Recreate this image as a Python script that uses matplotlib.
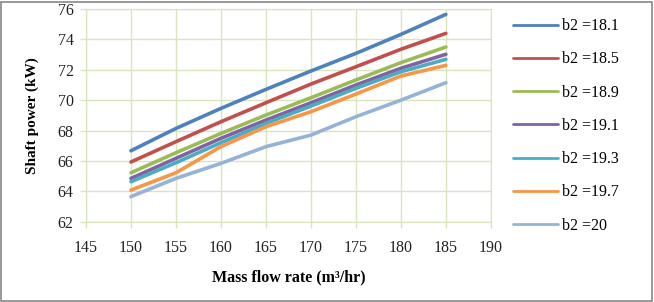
import matplotlib
matplotlib.use("Agg")
import matplotlib.pyplot as plt
from matplotlib.patches import Rectangle

plt.rcParams['font.family'] = ['Liberation Serif', 'DejaVu Serif']

flow = [150, 155, 160, 165, 170, 175, 180, 185]

b2_181 = [66.67, 68.14, 69.46, 70.71, 71.92, 73.08, 74.33, 75.65]
b2_185 = [65.93, 67.27, 68.58, 69.83, 71.06, 72.20, 73.35, 74.40]
b2_189 = [65.22, 66.54, 67.81, 69.02, 70.16, 71.33, 72.47, 73.50]
b2_191 = [64.85, 66.17, 67.49, 68.69, 69.83, 71.00, 72.10, 73.02]
b2_193 = [64.63, 65.88, 67.20, 68.47, 69.61, 70.78, 71.87, 72.69]
b2_197 = [64.08, 65.22, 66.94, 68.25, 69.24, 70.40, 71.59, 72.29]
b2_200 = [63.65, 64.85, 65.84, 66.94, 67.70, 68.91, 70.00, 71.15]

series = [b2_181, b2_185, b2_189, b2_191, b2_193, b2_197, b2_200]
labels = ["b2 =18.1", "b2 =18.5", "b2 =18.9", "b2 =19.1", "b2 =19.3", "b2 =19.7", "b2 =20"]
colors = ["#4F81BD", "#C0504D", "#9BBB59", "#8064A2", "#4BACC6", "#F79646", "#95B3D7"]

fig = plt.figure(figsize=(6.54, 3.02), dpi=100)
ax = fig.add_axes([0.1315, 0.266, 0.619, 0.704])

for vals, lab, col in zip(series, labels, colors):
    ax.plot(flow, vals, color=col, linewidth=2.6, label=lab, solid_capstyle='round')

ax.set_xlim(145, 190)
ax.set_ylim(62, 76)
ax.set_xticks(range(145, 191, 5))
ax.set_yticks(range(62, 77, 2))
grid_col = "#D7E4BD"
ax.grid(True, color=grid_col, linewidth=1.0)
for s in ax.spines.values():
    s.set_color(grid_col)
ax.tick_params(colors=grid_col, labelcolor="#222222", labelsize=11.5, length=4, width=1)
ax.tick_params(axis='x', pad=9)
ax.tick_params(axis='y', pad=5)

ax.set_xlabel("Mass flow rate (m³/hr)", fontsize=11.5, fontweight='bold', labelpad=10)
ax.set_ylabel("Shaft power (kW)", fontsize=11, fontweight='bold', labelpad=13)

leg = ax.legend(loc='upper left', bbox_to_anchor=(1.02, 1.025), frameon=False,
                fontsize=11.5, handlelength=2.8, labelspacing=1.08, handletextpad=0.25)
for line in leg.get_lines():
    line.set_linewidth(2)

fig.patches.append(Rectangle((0.002, 0.004), 0.995, 0.99, transform=fig.transFigure,
                             fill=False, edgecolor="#888888", linewidth=1.2))

fig.savefig("out.png", dpi=100)
